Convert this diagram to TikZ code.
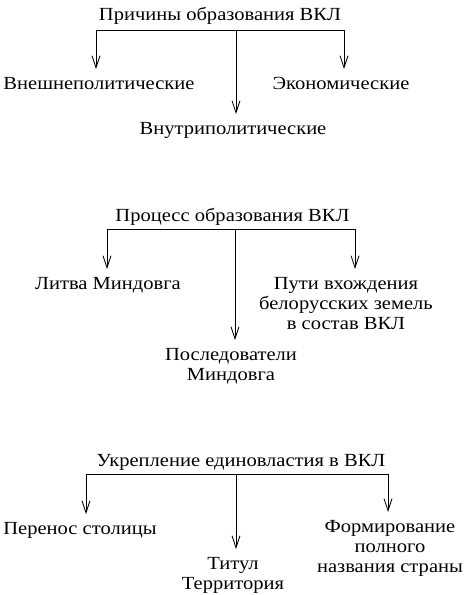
\documentclass[tikz,border=0pt]{standalone}
\usepackage{fontspec}
\setmainfont{Liberation Serif}[FakeStretch=1.11]
\usetikzlibrary{arrows.meta}

\begin{document}
\begin{tikzpicture}[x=1pt, y=-1pt,
          head/.style={font=\fontsize{18.5}{20}\selectfont, anchor=base, inner sep=0pt},
          leaf/.style={font=\fontsize{18.5}{20}\selectfont, anchor=north, align=center,
                       inner xsep=0pt, inner ysep=8pt},
          arr/.style={-{Straight Barb[length=12pt, width=8pt]}, line width=0.8pt},
          bar/.style={line width=0.8pt}
        ]
        \useasboundingbox (0,0) rectangle (467,595);

        % Causes
        \node[head] (t1) at (220, 20.7) {Причины образования ВКЛ};
        \coordinate (l1) at (96, 30);
        \coordinate (m1) at (236, 30);
        \coordinate (r1) at (344, 30);
        \node[leaf] (a1) at (99, 69)  {Внешнеполитические};
        \node[leaf] (a2) at (233, 114) {Внутриполитические};
        \node[leaf] (a3) at (341, 69) {Экономические};

        \draw[bar] (l1) -- (r1);
        \draw[arr] (l1) -- (l1 |- a1.north);
        \draw[arr] (m1) -- (m1 |- a2.north);
        \draw[arr] (r1) -- (r1 |- a3.north);

        % Process
        \node[head] (t2) at (232.5, 221.7) {Процесс образования ВКЛ};
        \coordinate (l2) at (107, 229);
        \coordinate (m2) at (235, 229);
        \coordinate (r2) at (355, 229);
        \node[leaf] (p1) at (108, 269) {Литва Миндовга};
        \node[leaf] (p2) at (231, 340) {Последователи\\Миндовга};
        \node[leaf] (p3) at (346, 269) {Пути вхождения\\белорусских земель\\в состав ВКЛ};

        \draw[bar] (l2) -- (r2);
        \draw[arr] (l2) -- (l2 |- p1.north);
        \draw[arr] (m2) -- (m2 |- p2.north);
        \draw[arr] (r2) -- (r2 |- p3.north);

        % Consolidation
        \node[head] (t3) at (241, 466) {Укрепление единовластия в ВКЛ};
        \coordinate (l3) at (86, 474);
        \coordinate (m3) at (236, 474);
        \coordinate (r3) at (388, 474);
        \node[leaf] (u1) at (80, 514)  {Перенос столицы};
        \node[leaf] (u2) at (233, 549) {Титул\\Территория};
        \node[leaf] (u3) at (390, 512) {Формирование\\полного\\названия страны};

        \draw[bar] (l3) -- (r3);
        \draw[arr] (l3) -- (l3 |- u1.north);
        \draw[arr] (m3) -- (m3 |- u2.north);
        \draw[arr] (r3) -- (r3 |- u3.north);
      \end{tikzpicture}
\end{document}
